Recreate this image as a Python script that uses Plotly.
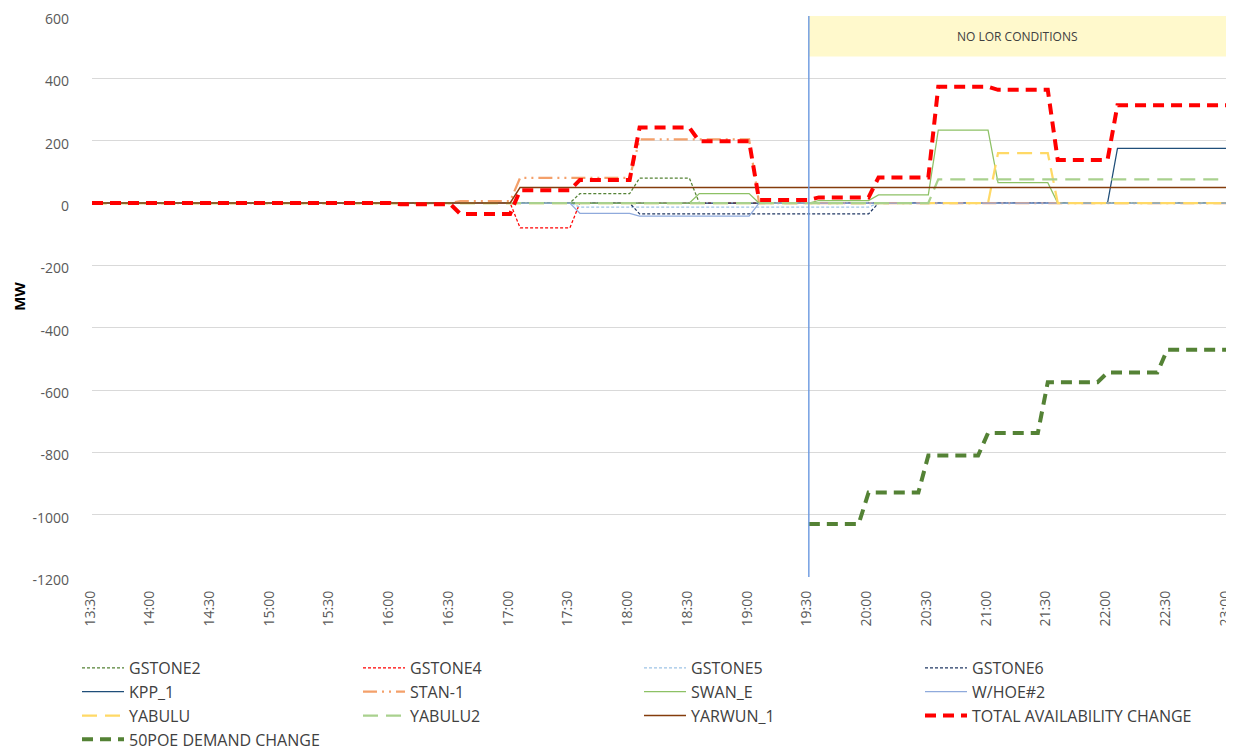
import plotly.graph_objects as go

DAY = "2024-01-01 "

tick_labels = ["13:30", "14:00", "14:30", "15:00", "15:30", "16:00", "16:30", "17:00", "17:30", "18:00",
               "18:30", "19:00", "19:30", "20:00", "20:30", "21:00", "21:30", "22:00", "22:30", "23:00"]
y_ticks = [-1200, -1000, -800, -600, -400, -200, 0, 200, 400, 600]

# breakpoints (time, MW); lines are straight between them
gstone2_t = ["13:30", "17:30", "17:35", "18:00", "18:05", "18:30", "18:35", "23:00"]
gstone2_v = [0, 0, 30, 30, 80, 80, 0, 0]

gstone4_t = ["13:30", "17:00", "17:05", "17:30", "17:35", "23:00"]
gstone4_v = [0, 0, -80, -80, 0, 0]

gstone5_t = ["13:30", "17:30", "17:35", "20:00", "20:05", "23:00"]
gstone5_v = [0, 0, -13, -13, 0, 0]

gstone6_t = ["13:30", "18:00", "18:05", "20:00", "20:05", "23:00"]
gstone6_v = [0, 0, -35, -35, 0, 0]

kpp1_t = ["13:30", "22:00", "22:05", "23:00"]
kpp1_v = [0, 0, 175, 175]

stan1_t = ["13:30", "16:30", "16:35", "17:00", "17:05", "18:00", "18:05", "19:00", "19:05", "23:00"]
stan1_v = [0, 0, 6, 6, 81, 81, 204, 204, 0, 0]

swane_t = ["13:30", "18:30", "18:35", "19:00", "19:05", "19:30", "19:35", "20:00", "20:05",
           "20:30", "20:35", "21:00", "21:05", "21:30", "21:35", "23:00"]
swane_v = [0, 0, 30, 30, 0, 0, 8, 8, 26, 26, 234, 234, 65, 65, 0, 0]

whoe2_t = ["13:30", "17:30", "17:35", "18:00", "18:05", "19:00", "19:05", "23:00"]
whoe2_v = [0, 0, -33, -33, -42, -42, 0, 0]

yabulu_t = ["13:30", "21:00", "21:05", "21:30", "21:35", "23:00"]
yabulu_v = [0, 0, 160, 160, 0, 0]

yabulu2_t = ["13:30", "20:30", "20:35", "23:00"]
yabulu2_v = [0, 0, 76, 76]

yarwun1_t = ["13:30", "17:00", "17:05", "23:00"]
yarwun1_v = [0, 0, 50, 50]

total_t = ["13:30", "16:00", "16:05", "16:30", "16:35", "17:00", "17:05", "17:30", "17:35",
           "18:00", "18:05", "18:30", "18:35", "19:00", "19:05", "19:30", "19:35", "20:00",
           "20:05", "20:30", "20:35", "21:00", "21:05", "21:30", "21:35", "22:00", "22:05", "23:00"]
total_v = [0, 0, -4, -4, -35, -35, 41, 41, 74, 74, 242, 242, 198, 198, 10, 10, 18, 18,
           82, 82, 373, 373, 363, 363, 138, 138, 314, 314]

demand_t = ["19:30", "19:55", "20:00", "20:25", "20:30", "20:55", "21:00", "21:25",
            "21:30", "21:55", "22:00", "22:25", "22:30", "23:00"]
demand_v = [-1030, -1030, -929, -929, -810, -810, -738, -738, -575, -575, -544, -544, -471, -471]

series = [
    ("GSTONE2", gstone2_t, gstone2_v, "#548235", 1.25, "3px,2px"),
    ("GSTONE4", gstone4_t, gstone4_v, "#FF0000", 1.25, "3px,2px"),
    ("GSTONE5", gstone5_t, gstone5_v, "#9DC3E6", 1.25, "3px,2px"),
    ("GSTONE6", gstone6_t, gstone6_v, "#203864", 1.25, "3px,2px"),
    ("KPP_1", kpp1_t, kpp1_v, "#1F4E79", 1.25, "solid"),
    ("STAN-1", stan1_t, stan1_v, "#F4A06A", 2.25, "14px,5px,2px,5px,2px,5px"),
    ("SWAN_E", swane_t, swane_v, "#8DC165", 1.25, "solid"),
    ("W/HOE#2", whoe2_t, whoe2_v, "#8FAADC", 1.25, "solid"),
    ("YABULU", yabulu_t, yabulu_v, "#FFD966", 2.25, "15px,8px"),
    ("YABULU2", yabulu2_t, yabulu2_v, "#A9D18E", 2.25, "15px,8px"),
    ("YARWUN_1", yarwun1_t, yarwun1_v, "#843C0C", 1.5, "solid"),
    ("TOTAL AVAILABILITY CHANGE", total_t, total_v, "#FF0000", 4, "11px,7px"),
    ("50POE DEMAND CHANGE", demand_t, demand_v, "#548235", 4, "11px,7px"),
]

fig = go.Figure()
for name, t, v, color, width, dash in series:
    fig.add_trace(go.Scatter(
        x=[DAY + s for s in t], y=v, name=name, mode="lines",
        line=dict(color=color, width=width, dash=dash),
    ))

# NO LOR box and 19:30 marker
fig.add_shape(type="rect", xref="x", yref="y", x0=DAY + "19:30", x1=DAY + "23:00",
              y0=470, y1=600, fillcolor="#FFF9CC", line_width=0, layer="below")
fig.add_shape(type="line", xref="x", yref="paper", x0=DAY + "19:30", x1=DAY + "19:30",
              y0=0, y1=1, line=dict(color="#6A98E0", width=1.4))
fig.add_annotation(x=DAY + "21:15", y=535, xref="x", yref="y", text="NO LOR CONDITIONS",
                   showarrow=False, font=dict(size=12, color="#404040"))

# page body adds an 8px margin, so the figure is sized to fit inside it
W, H = 1226, 743
fig.update_layout(
    width=W, height=H,
    margin=dict(l=84, r=7, t=8, b=174),
    paper_bgcolor="white", plot_bgcolor="white",
    font=dict(family="Open Sans", color="#595959", size=14),
    showlegend=True,
    legend=dict(
        orientation="h", xref="container", x=69 / W, xanchor="left",
        yref="container", y=1 - 643 / H, yanchor="top",
        entrywidth=224, entrywidthmode="pixels", itemwidth=42,
        font=dict(size=16, color="#404040"), tracegroupgap=0,
    ),
)
fig.update_xaxes(
    type="date", range=[DAY + "13:30", DAY + "23:00"],
    tickmode="array", tickvals=[DAY + t for t in tick_labels], ticktext=tick_labels,
    tickangle=-90, showgrid=False, zeroline=False, showline=False, automargin=False,
    ticks="", ticklabelstandoff=10, ticklabelshift=-2, ticklabeloverflow="allow",
    tickfont=dict(size=14, color="#595959"),
)
fig.update_yaxes(
    range=[-1200, 600], tickmode="array", tickvals=y_ticks,
    ticktext=[str(v) for v in y_ticks],
    showgrid=True, gridcolor="#D9D9D9", gridwidth=1,
    zeroline=False, showline=False, ticks="", ticklabelstandoff=22, ticklabelshift=3,
    automargin=False, ticklabeloverflow="allow", tickfont=dict(size=14, color="#595959"),
    title=dict(text="<b>MW</b>", font=dict(size=15, color="#000000"), standoff=3),
)

fig.write_html("out.html")
